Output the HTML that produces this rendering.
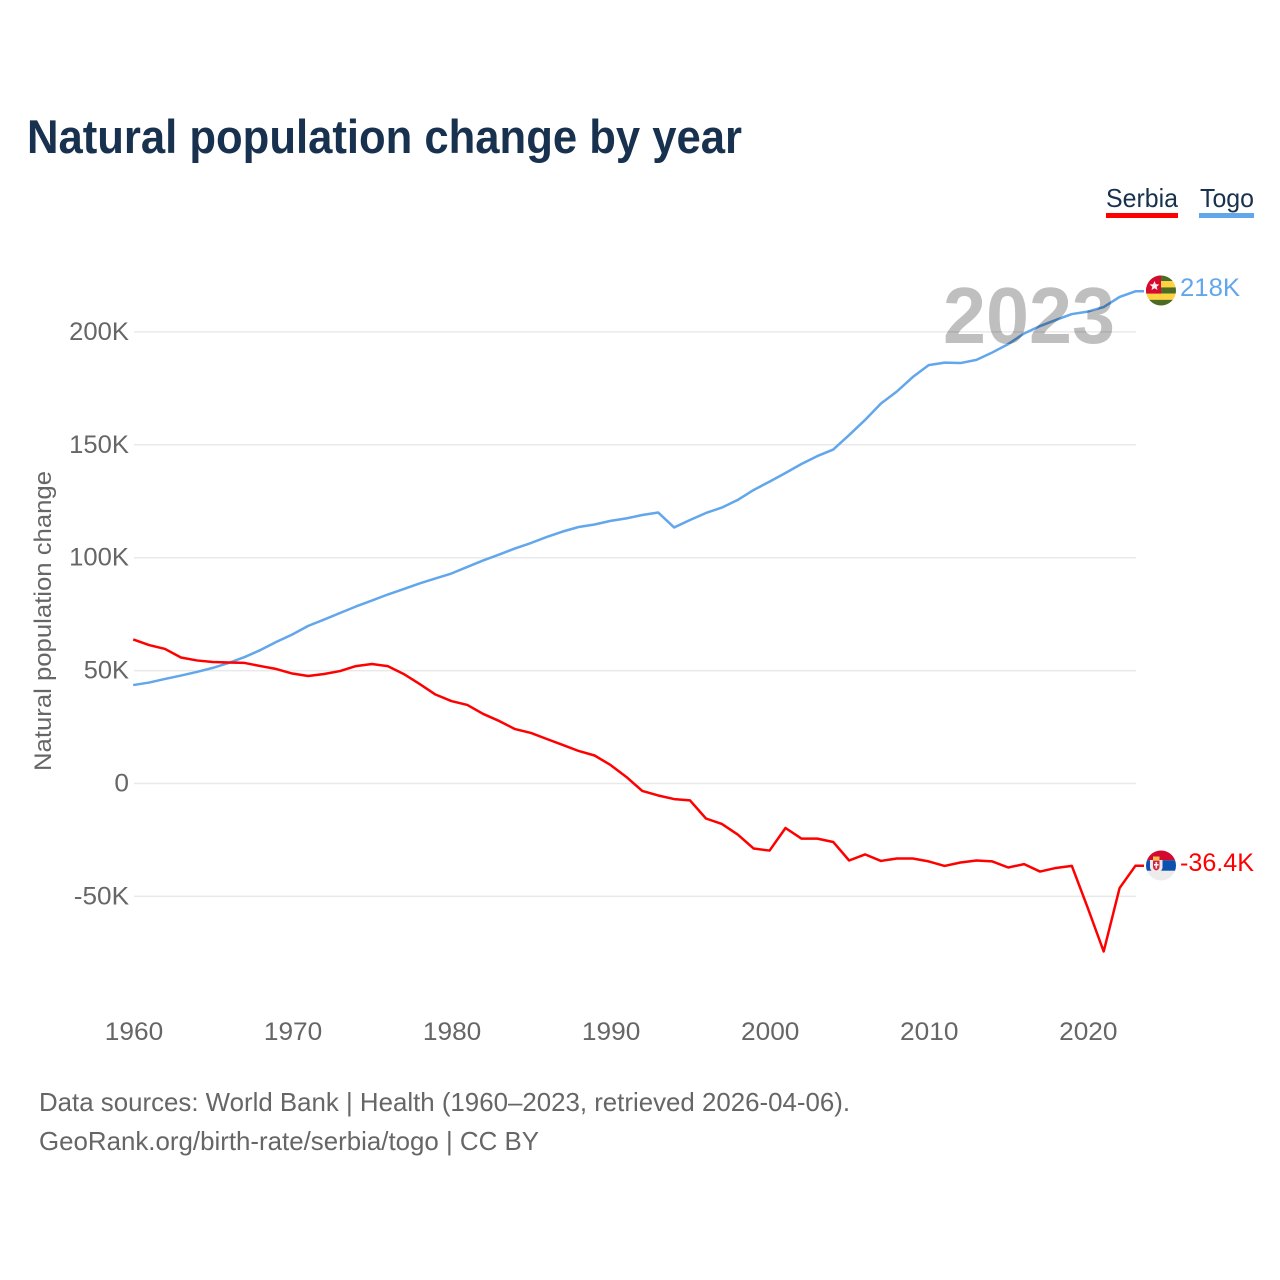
<!DOCTYPE html>
<html lang="en">
<head>
<meta charset="utf-8">
<title>Natural population change by year</title>
<style>
html,body{margin:0;padding:0;background:#fff;width:1280px;height:1280px;overflow:hidden}
svg{display:block;font-family:"Liberation Sans",Arial,sans-serif}
</style>
</head>
<body>
<svg id="chart" xmlns="http://www.w3.org/2000/svg" width="1280" height="1280" viewBox="0 0 1280 1280">
  <text x="27" y="153" font-size="47" font-weight="700" fill="#17314f" textLength="715" lengthAdjust="spacingAndGlyphs">Natural population change by year</text>

  <g>
    <g>
      <text x="1106" y="207" font-size="26" fill="#17314f" textLength="72" lengthAdjust="spacingAndGlyphs">Serbia</text>
      <rect x="1106" y="213" width="72" height="5" fill="#ff0000"/>
    </g>
    <g>
      <text x="1200" y="207" font-size="26" fill="#17314f" textLength="54" lengthAdjust="spacingAndGlyphs">Togo</text>
      <rect x="1199" y="213" width="55" height="5" fill="#62a6ec"/>
    </g>
  </g>

  <g id="grid"></g>
  <g id="yTicks"></g>
  <g id="xTicks"></g>

  <text transform="translate(51 771) rotate(-90)" font-size="24" fill="#666" textLength="300" lengthAdjust="spacingAndGlyphs">Natural population change</text>

  <g id="series"></g>

  <text id="yearLabel" x="943" y="343" font-size="80" font-weight="700" fill="#000" fill-opacity="0.25" textLength="172" lengthAdjust="spacingAndGlyphs">2023</text>

  <defs>
    <clipPath id="flagClipTogo"><circle cx="1161" cy="290.5" r="15"/></clipPath>
    <clipPath id="flagClipSerbia"><circle cx="1161" cy="865.5" r="15"/></clipPath>
  </defs>

  <g clip-path="url(#flagClipTogo)">
    <rect x="1146" y="275" width="30" height="6.2" fill="#4d6b22"/>
    <rect x="1146" y="281.2" width="30" height="6.2" fill="#ffd23f"/>
    <rect x="1146" y="287.4" width="30" height="6.2" fill="#4d6b22"/>
    <rect x="1146" y="293.6" width="30" height="6.2" fill="#ffd23f"/>
    <rect x="1146" y="299.8" width="30" height="6.2" fill="#4d6b22"/>
    <rect x="1146" y="275" width="15" height="18.6" fill="#d8092f"/>
    <polygon points="1154.5,281 1155.9,284.2 1159.3,284.5 1156.7,286.7 1157.5,290 1154.5,288.3 1151.5,290 1152.3,286.7 1149.7,284.5 1153.1,284.2" fill="#f3eded"/>
  </g>

  <g clip-path="url(#flagClipSerbia)">
    <rect x="1146" y="850" width="30" height="31" fill="#ececec"/>
    <rect x="1146" y="850" width="30" height="10.3" fill="#d3092f"/>
    <rect x="1146" y="860.3" width="30" height="10.4" fill="#0c51ad"/>
    <path d="M1150 860h12.5v8q-1 4-6.2 5q-5.3-1-6.3-5z" fill="#f3e9e9"/>
    <path d="M1153 860.5h6.5v6q0 3-3.2 4q-3.3-1-3.3-4z" fill="#d0243c"/>
    <rect x="1155.5" y="862" width="1.6" height="6.5" fill="#f4eeee"/>
    <rect x="1154" y="864" width="4.6" height="1.6" fill="#f4eeee"/>
    <rect x="1153" y="856.5" width="6.5" height="3.5" fill="#f0c040"/>
  </g>

  <text id="labelTogo" x="1180" y="296" font-size="25" fill="#62a6ec" textLength="60" lengthAdjust="spacingAndGlyphs">218K</text>
  <text id="labelSerbia" x="1180" y="871" font-size="25" fill="#ff0000" textLength="74" lengthAdjust="spacingAndGlyphs">-36.4K</text>

  <text x="39" y="1111" font-size="26" fill="#666" textLength="811" lengthAdjust="spacingAndGlyphs">Data sources: World Bank | Health (1960–2023, retrieved 2026-04-06).</text>
  <text x="39" y="1150" font-size="26" fill="#666" textLength="500" lengthAdjust="spacingAndGlyphs">GeoRank.org/birth-rate/serbia/togo | CC BY</text>
</svg>

<script>
const startYear = 1960;
const xTickYears = [1960, 1970, 1980, 1990, 2000, 2010, 2020];
const yTickValues = [200, 150, 100, 50, 0, -50];
const yTickLabels = ["200K", "150K", "100K", "50K", "0", "-50K"];
const togoValues = [43.6,44.7,46.3,47.8,49.4,51.2,53.4,56.0,59.1,62.7,66.0,69.8,72.6,75.5,78.4,81.0,83.7,86.1,88.6,90.8,93.0,95.9,98.8,101.4,104.1,106.5,109.2,111.6,113.6,114.7,116.3,117.4,118.9,120.0,113.4,116.7,119.8,122.2,125.6,130.0,133.7,137.5,141.5,145.0,147.9,154.3,161.0,168.3,173.6,180.0,185.3,186.4,186.2,187.6,190.9,194.6,199.3,202.6,205.3,207.9,209.0,211.0,215.5,218.0];
const serbiaValues = [63.8,61.3,59.6,55.8,54.5,53.8,53.6,53.4,52.0,50.7,48.7,47.6,48.5,49.8,52.0,52.9,52.0,48.5,44.1,39.4,36.5,34.8,30.8,27.7,24.1,22.4,19.7,17.1,14.4,12.4,8.2,2.9,-3.3,-5.3,-6.9,-7.5,-15.5,-17.9,-22.6,-28.8,-29.7,-19.7,-24.4,-24.4,-25.9,-34.1,-31.4,-34.3,-33.2,-33.2,-34.5,-36.5,-35.0,-34.1,-34.5,-37.2,-35.7,-39.0,-37.4,-36.5,-55.1,-74.4,-46.3,-36.4];

const NS = "http://www.w3.org/2000/svg";
function xScale(year) { return 133.2 + (year - 1960) * (1135.5 - 133.2) / 63; }
function yScale(value) { return 783.5 - value * 2.258; }
function labelWidth(text) {
  let w = 0;
  for (const c of text) { w += c === "K" ? 16 : c === "-" ? 10 : 14.6; }
  return w;
}
function makeText(str, x, y, anchor) {
  const t = document.createElementNS(NS, "text");
  t.setAttribute("x", x);
  t.setAttribute("y", y);
  t.setAttribute("text-anchor", anchor);
  t.setAttribute("font-size", "25");
  t.setAttribute("fill", "#666");
  t.setAttribute("textLength", labelWidth(str));
  t.setAttribute("lengthAdjust", "spacingAndGlyphs");
  t.textContent = str;
  return t;
}

const grid = document.getElementById("grid");
const yTicks = document.getElementById("yTicks");
yTickValues.forEach(function (v, i) {
  const line = document.createElementNS(NS, "line");
  
  
  line.setAttribute("x1", 134);
  line.setAttribute("x2", 1136);
  line.setAttribute("y1", yScale(v));
  line.setAttribute("y2", yScale(v));
  line.setAttribute("stroke", "#e9e9e9");
  line.setAttribute("stroke-width", "1.5");
  grid.appendChild(line);
  const label = makeText(yTickLabels[i], 129, yScale(v) + 8, "end");
  
  
  yTicks.appendChild(label);
});

const xTicks = document.getElementById("xTicks");
xTickYears.forEach(function (yr) {
  const label = makeText(String(yr), 134 + (yr - 1960) * 15.905, 1040, "middle");
  
  
  xTicks.appendChild(label);
});

const seriesGroup = document.getElementById("series");
function drawSeries(values, color, name) {
  const pts = values.map(function (v, i) {
    return xScale(startYear + i).toFixed(2) + "," + yScale(v).toFixed(2);
  });
  const last = values[values.length - 1];
  pts.push("1144," + yScale(last).toFixed(2));
  const line = document.createElementNS(NS, "polyline");
  
  
  line.setAttribute("points", pts.join(" "));
  line.setAttribute("fill", "none");
  line.setAttribute("stroke", color);
  line.setAttribute("stroke-width", "2.5");
  line.setAttribute("stroke-linejoin", "round");
  seriesGroup.appendChild(line);
}
drawSeries(togoValues, "#62a6ec", "line-togo");
drawSeries(serbiaValues, "#ff0000", "line-serbia");
</script>
</body>
</html>
